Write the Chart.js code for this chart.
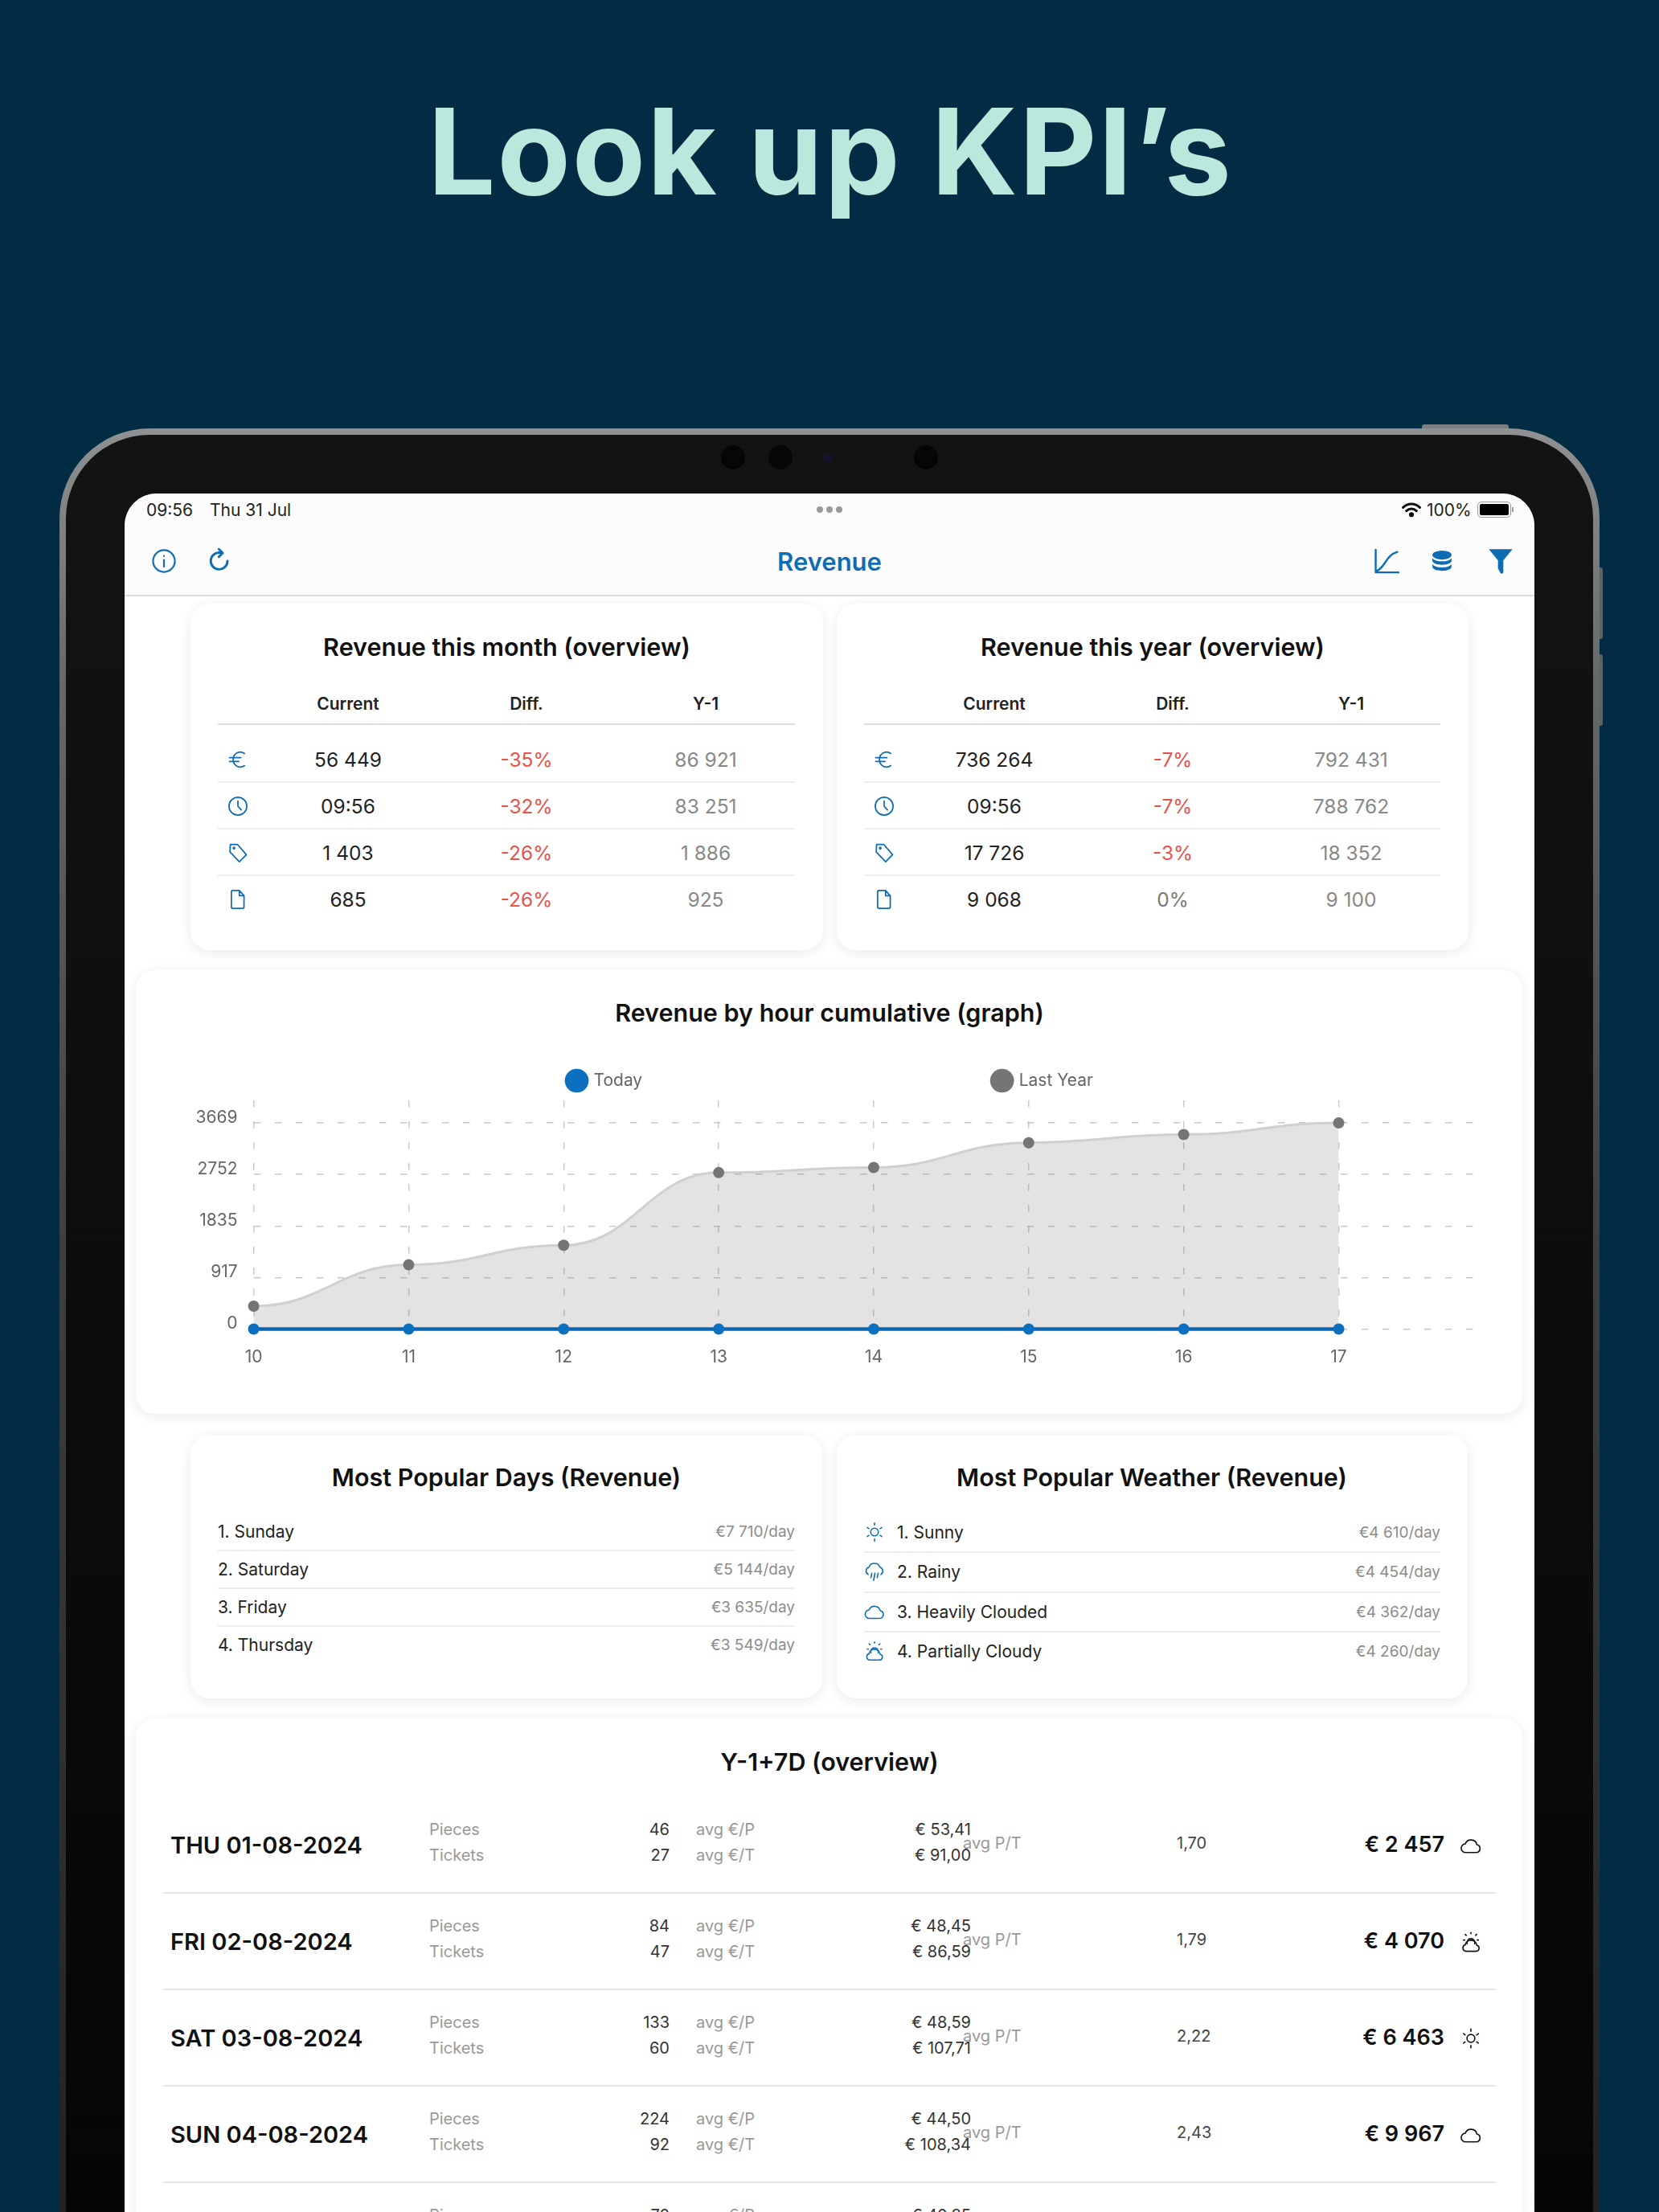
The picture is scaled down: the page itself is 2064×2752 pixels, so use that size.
<!DOCTYPE html>
<html>
<head>
<meta charset="utf-8">
<title>Look up KPI's</title>
<script src="https://cdn.jsdelivr.net/npm/chart.js"></script>
<style>
html, body { margin: 0; padding: 0; width: 2064px; height: 2752px; overflow: hidden; background: #012c43; font-family: Inter, "Noto Sans", sans-serif; }
.box { position: absolute; box-sizing: border-box; }
.txt { position: absolute; white-space: pre; line-height: 1; }
.card { position: absolute; box-sizing: border-box; background: #fff; border-radius: 24px; box-shadow: 0 3px 16px rgba(0,0,0,.09); }
.icon { position: absolute; transform: translate(-50%, -50%); fill: none; stroke-linecap: round; stroke-linejoin: round; }
#chart { position: absolute; left: 169px; top: 1310px; }
</style>
</head>
<body>
<canvas id="chart" width="1725" height="410" style="z-index:5"></canvas>
<script>
// chart data
var hours = [10, 11, 12, 13, 14, 15, 16, 17];
var todayValues = [0, 0, 0, 0, 0, 0, 0, 0];
var lastYearValues = [408, 1143, 1491, 2785, 2876, 3317, 3463, 3669];
var yTicks = [0, 917, 1835, 2752, 3669];
var seriesNames = ['Today', 'Last Year'];

// tables
var tableHead = ['Current', 'Diff.', 'Y-1'];
var rowIcons = ['euro', 'clock', 'tag', 'doc'];
var monthCurrent = ['56 449', '09:56', '1 403', '685'];
var monthDiff = ['-35%', '-32%', '-26%', '-26%'];
var monthPrev = ['86 921', '83 251', '1 886', '925'];
var yearCurrent = ['736 264', '09:56', '17 726', '9 068'];
var yearDiff = ['-7%', '-7%', '-3%', '0%'];
var yearPrev = ['792 431', '788 762', '18 352', '9 100'];

var dayNames = ['1. Sunday', '2. Saturday', '3. Friday', '4. Thursday'];
var dayRevenue = ['€7 710/day', '€5 144/day', '€3 635/day', '€3 549/day'];
var weatherNames = ['1. Sunny', '2. Rainy', '3. Heavily Clouded', '4. Partially Cloudy'];
var weatherRevenue = ['€4 610/day', '€4 454/day', '€4 362/day', '€4 260/day'];
var weatherIcons = ['sun', 'rain', 'cloud', 'partly'];

var weekDates = ['THU 01-08-2024', 'FRI 02-08-2024', 'SAT 03-08-2024', 'SUN 04-08-2024', ''];
var weekPieces = ['46', '84', '133', '224', '70'];
var weekTickets = ['27', '47', '60', '92', ''];
var weekAvgP = ['€ 53,41', '€ 48,45', '€ 48,59', '€ 44,50', '€ 40,85'];
var weekAvgT = ['€ 91,00', '€ 86,59', '€ 107,71', '€ 108,34', ''];
var weekPT = ['1,70', '1,79', '2,22', '2,43', ''];
var weekTotal = ['€ 2 457', '€ 4 070', '€ 6 463', '€ 9 967', ''];
var weekIcons = ['cloud', 'partly', 'sun', 'cloud'];

var BLUE = '#0e6cb5';
var ICONS = {
  euro: '<path d="M19 5.500A7.600 7.600 0 0 0 7 12a7.600 7.600 0 0 0 12 6.500M3 10h12M3 14h10"/>',
  clock: '<circle cx="12" cy="12" r="9.500"/><path d="M12 6.500V12l3.500 4"/>',
  tag: '<path d="M4 3h7.500L21 14l-7.500 7.500L3.500 11z"/><circle cx="7.800" cy="7" r=".8"/>',
  doc: '<path d="M6.500 2.500h7l5 5.500v12a1.500 1.500 0 0 1-1.500 1.500H6.500A1.500 1.500 0 0 1 5 20V4a1.500 1.500 0 0 1 1.500-1.500zM13.500 2.500V8h5"/>',
  sun: '<circle cx="12" cy="12" r="4.200"/><path d="M12 2v2.500M12 19.500V22M4 7l1.800 1.300M4 17l1.800-1.300M20 7l-1.800 1.300M20 17l-1.800-1.300"/>',
  rain: '<path d="M5 15.500a4.500 4.500 0 0 1 .8-8.200A6.500 6.500 0 0 1 18 7.300a4.500 4.500 0 0 1 1 8.200M9 14l-1 5M12.500 14l-1.500 8M16 14l-1 5"/>',
  cloud: '<path d="M6.500 19.500h11a4.200 4.200 0 0 0 .9-8.300A6.500 6.500 0 0 0 6 10.300a4.600 4.600 0 0 0 .5 9.200z"/>',
  partly: '<path d="M6.500 22h11a3.300 3.300 0 0 0 .7-6.500A6.200 6.200 0 0 0 6 15a3.600 3.600 0 0 0 .5 7z"/><path d="M8 14a4.200 4.200 0 1 1 8 0M12 2v1.300M6 4l1 1M18 4l-1 1M4 10h1.300M20 10h-1.300"/>',
  info: '<circle cx="12" cy="12" r="10.500"/><path d="M12 11v6.500M12 7v.2"/>',
  refresh: '<path d="M19.500 12A7.800 7.800 0 1 1 14 4.500"/><path d="M11.500 1L15 4.500l-3.500 3.500"/>',
  chart: '<path d="M2.500 2v20h20M3 21C11 18 11 7 21.500 4"/>'
};

function addBox(x, y, w, h, css) {
  var d = document.createElement('div');
  d.className = 'box';
  d.style.cssText = 'left:' + x + 'px;top:' + y + 'px;width:' + w + 'px;height:' + h + 'px;' + (css || '');
  document.body.appendChild(d);
  return d;
}
function addText(s, x, y, size, weight, color, align) {
  var d = document.createElement('div');
  d.className = 'txt';
  d.textContent = s;
  var tx = align === 'center' ? '-50%' : align === 'right' ? '-100%' : '0';
  d.style.cssText = 'left:' + x + 'px;top:' + y + 'px;font-size:' + size + 'px;font-weight:' + weight + ';color:' + color + ';transform:translate(' + tx + ',-50%);z-index:6';
  document.body.appendChild(d);
  return d;
}
function addSvg(markup, viewBox, x, y, w, h, css) {
  var ns = document.createElementNS('http://www.w3.org/2000/svg', 'svg');
  ns.setAttribute('viewBox', viewBox);
  ns.setAttribute('class', 'icon');
  ns.setAttribute('width', w);
  ns.setAttribute('height', h);
  ns.style.cssText = 'left:' + x + 'px;top:' + y + 'px;z-index:6;' + css;
  ns.innerHTML = markup;
  document.body.appendChild(ns);
}
function addIcon(name, x, y, size, color, sw) {
  addSvg(ICONS[name], '0 0 24 24', x, y, size, size, 'stroke:' + color + ';stroke-width:' + (sw || 1.6));
}
function addLine(x1, x2, y, color) {
  addBox(x1, y - 1, x2 - x1, 2, 'background:' + (color || '#ececec') + ';z-index:6');
}
function addCard(x1, y1, x2, y2) {
  var d = document.createElement('div');
  d.className = 'card';
  d.style.cssText = 'left:' + x1 + 'px;top:' + y1 + 'px;width:' + (x2 - x1) + 'px;height:' + (y2 - y1) + 'px;z-index:2';
  document.body.appendChild(d);
}

// page heading and device body
var heading = addText('Look up KPI’s', 1033, 188, 149, 700, '#b9e8dc', 'center');
heading.style.letterSpacing = '2px';

addBox(1769, 528, 108, 8, 'background:#7d8083;border-radius:3px 3px 0 0');
addBox(1986, 706, 8, 89, 'background:#5f6265;border-radius:0 3px 3px 0');
addBox(1986, 814, 8, 89, 'background:#5f6265;border-radius:0 3px 3px 0');
addBox(74, 533, 1916, 2500, 'border-radius:112px;background:linear-gradient(#8f9193 0,#68696b 300px,#3e3f40 1000px,#222 2200px)');
addBox(82, 541, 1900, 2490, 'border-radius:104px;background:linear-gradient(#131313 0,#0e0e0e 900px,#050505 2200px)');
[912, 971, 1152].forEach(function (cx) {
  addBox(cx - 15, 554, 30, 30, 'border-radius:50%;background:#060606');
});
addBox(1024, 564, 11, 11, 'border-radius:50%;background:#14142e');
addBox(1088, 566, 6, 6, 'border-radius:50%;background:#111');

// screen
addBox(155, 614, 1754, 2500, 'border-radius:40px;background:#fff;z-index:1');
addBox(155, 614, 1754, 127, 'border-radius:40px 40px 0 0;background:#fcfcfc;z-index:1');
addLine(155, 1909, 741, '#dcdcdc');

// status bar
addText('09:56', 182, 634, 21, 400, '#222');
addText('Thu 31 Jul', 261, 634, 21, 400, '#222');
[1020, 1032, 1044].forEach(function (cx) {
  addBox(cx - 4, 630, 8, 8, 'border-radius:50%;background:#9a9a9a;z-index:6');
});
addText('100%', 1775, 634, 21, 400, '#222');
addBox(1838, 624, 42, 20, 'border:1.500px solid #999;border-radius:5px;background:#000;background-clip:content-box;padding:2px;z-index:6');
addBox(1881, 631, 2, 6, 'background:#999;z-index:6');
addSvg('<path d="M2 6.500a14 14 0 0 1 20 0M6 10.500a8.500 8.500 0 0 1 12 0"/><circle cx="12" cy="15" r="1.500" fill="#111"/>',
  '0 0 24 18', 1756, 634, 25, 19, 'stroke:#111;stroke-width:3');

// nav bar
addText('Revenue', 1032, 698, 31, 600, BLUE, 'center');
addIcon('info', 204, 698, 31, BLUE, 1.7);
addIcon('refresh', 273, 698, 32, BLUE, 2.2);
addIcon('chart', 1725, 698, 34, BLUE, 1.7);
addSvg('<ellipse cx="12" cy="6" rx="9.500" ry="4.500"/><path d="M2.500 8.500c1 5 18 5 19 0V12c-1 5-18 5-19 0zM2.500 14.500c1 5 18 5 19 0V18c-1 5-18 5-19 0z"/>',
  '0 0 24 24', 1794, 698, 30, 30, 'fill:' + BLUE);
addSvg('<path d="M1 1h22l-8.500 10.500V22a1.500 1.500 0 0 1-3 .5L9.500 19V11.500z"/>',
  '0 0 24 24', 1867, 698, 32, 32, 'fill:' + BLUE);

// top two cards
function overviewCard(x1, x2, title, lineX1, lineX2, cols, cur, diff, prev) {
  addCard(x1, 751, x2, 1182);
  addText(title, (x1 + x2) / 2, 805, 30.5, 600, '#111', 'center');
  tableHead.forEach(function (h, i) {
    addText(h, cols[i + 1], 875, 21, 600, '#222', 'center');
  });
  addLine(lineX1, lineX2, 901, '#dedede');
  var rowY = [945, 1003, 1061, 1119];
  var sepY = [973, 1031, 1089];
  rowY.forEach(function (y, i) {
    addIcon(rowIcons[i], cols[0], y, 28, BLUE, 1.5);
    addText(cur[i], cols[1], y, 24.5, 400, '#222', 'center');
    addText(diff[i], cols[2], y, 24.5, 400, diff[i].charAt(0) === '-' ? '#e8524a' : '#777', 'center');
    addText(prev[i], cols[3], y, 24.5, 400, '#888', 'center');
  });
  sepY.forEach(function (y) { addLine(lineX1, lineX2, y); });
}
overviewCard(237, 1024, 'Revenue this month (overview)', 271, 989, [296, 433, 655, 878], monthCurrent, monthDiff, monthPrev);
overviewCard(1041, 1827, 'Revenue this year (overview)', 1075, 1792, [1100, 1237, 1459, 1681], yearCurrent, yearDiff, yearPrev);

// chart card
addCard(169, 1207, 1894, 1759);
addText('Revenue by hour cumulative (graph)', 1032, 1260, 30.5, 600, '#111', 'center');

// popular days and weather
addCard(237, 1785, 1023, 2113);
addText('Most Popular Days (Revenue)', 630, 1838, 30.5, 600, '#111', 'center');
[1905, 1952, 1999, 2046].forEach(function (y, i) {
  addText(dayNames[i], 271, y, 21, 400, '#222');
  addText(dayRevenue[i], 989, y, 19, 400, '#8c8c8c', 'right');
});
[1929, 1976, 2023].forEach(function (y) { addLine(271, 989, y); });

addCard(1041, 1785, 1826, 2113);
addText('Most Popular Weather (Revenue)', 1433, 1838, 30.5, 600, '#111', 'center');
[1906, 1955, 2005, 2054].forEach(function (y, i) {
  addIcon(weatherIcons[i], 1088, y, 27, BLUE, 1.4);
  addText(weatherNames[i], 1116, y, 21, 400, '#222');
  addText(weatherRevenue[i], 1792, y, 19, 400, '#8c8c8c', 'right');
});
[1931, 1981, 2030].forEach(function (y) { addLine(1075, 1792, y); });

// Y-1+7D list
addCard(169, 2138, 1894, 3000);
addText('Y-1+7D (overview)', 1032, 2192, 30.5, 600, '#111', 'center');
weekPieces.forEach(function (p, i) {
  var y = 2294 + i * 120;
  addText('Pieces', 534, y - 18.5, 20, 400, '#999');
  addText(p, 833, y - 18.5, 20, 400, '#333', 'right');
  addText('avg €/P', 866, y - 18.5, 20, 400, '#999');
  addText(weekAvgP[i], 1208, y - 18.5, 20, 400, '#333', 'right');
  if (i < 4) {
    addLine(203, 1861, y + 61, '#e4e4e4');
    addText(weekDates[i], 212, y + 0.5, 29, 600, '#111');
    addText('Tickets', 534, y + 14, 20, 400, '#999');
    addText(weekTickets[i], 833, y + 14, 20, 400, '#333', 'right');
    addText('avg €/T', 866, y + 14, 20, 400, '#999');
    addText(weekAvgT[i], 1208, y + 14, 20, 400, '#333', 'right');
    addText('avg P/T', 1198, y - 1, 20, 400, '#999');
    addText(weekPT[i], 1464, y - 1, 20, 400, '#444');
    addText(weekTotal[i], 1797, y, 27, 600, '#111', 'right');
    addIcon(weekIcons[i], 1830, y + 2, 28, '#111', 1.4);
  }
});

// keeps the two legend items far apart without the legend taking that room
var legendPadding = 437;
var plotRightPad = 53;
var spreadLegend = {
  id: 'spreadLegend',
  beforeUpdate: function (chart) {
    var lg = chart.legend;
    if (!lg || lg.spreadDone) return;
    lg.spreadDone = true;
    var fit = lg.fit, draw = lg.draw;
    lg.fit = function () { fit.call(this); this.height = 59; };
    lg.draw = function () {
      var t = this.top, r = this.right;
      this.top = 24 - legendPadding;
      this.right = r + plotRightPad + 4;
      draw.call(this);
      this.top = t;
      this.right = r;
    };
  }
};

// the reference curve arrives flat at every point, so level the bezier handles
var flatKnots = {
  id: 'flatKnots',
  afterDatasetsUpdate: function (chart) {
    var meta = chart.getDatasetMeta(1);
    var pts = meta.data;
    meta.dataset.updateControlPoints(chart.chartArea, 'x');
    pts.forEach(function (p, i) {
      var prev = pts[i - 1], next = pts[i + 1];
      if (prev) { p.cp1x = p.x - (p.x - prev.x) * 0.45; p.cp1y = p.y; }
      if (next) { p.cp2x = p.x + (next.x - p.x) * 0.45; p.cp2y = p.y; }
    });
  }
};

var legendColors = ['#0a70bf', '#757575'];
var gridDash = [8.5, 17.5];

new Chart(document.getElementById('chart').getContext('2d'), {
  type: 'line',
  data: {
    datasets: [{
      label: seriesNames[0],
      data: hours.map(function (h, i) { return { x: h, y: todayValues[i] }; }),
      borderColor: '#0a66b2',
      backgroundColor: '#0a70bf',
      borderWidth: 4.5,
      pointRadius: 7,
      pointBackgroundColor: '#0a70bf',
      pointBorderWidth: 0,
      clip: false
    }, {
      label: seriesNames[1],
      data: hours.map(function (h, i) { return { x: h, y: lastYearValues[i] }; }),
      borderColor: '#d0d0d0',
      backgroundColor: 'rgba(115,115,115,0.2)',
      borderWidth: 3,
      fill: 'origin',
      cubicInterpolationMode: 'monotone',
      pointRadius: 7,
      pointBackgroundColor: '#757575',
      pointBorderWidth: 0,
      clip: false
    }]
  },
  options: {
    responsive: false,
    animation: false,
    layout: { autoPadding: false, padding: { right: plotRightPad } },
    plugins: {
      tooltip: { enabled: false },
      legend: {
        position: 'top',
        labels: {
          color: '#666',
          font: { family: 'Inter', size: 21 },
          usePointStyle: true,
          padding: legendPadding,
          generateLabels: function (chart) {
            return chart.data.datasets.map(function (d, i) {
              return { text: d.label, datasetIndex: i, fillStyle: legendColors[i], strokeStyle: legendColors[i], lineWidth: 0, pointStyle: 'circle', fontColor: '#666' };
            });
          }
        }
      }
    },
    scales: {
      x: {
        type: 'linear',
        min: 10,
        max: 17.91,
        afterBuildTicks: function (scale) {
          scale.ticks = hours.map(function (h) { return { value: h }; });
        },
        afterFit: function (scale) { scale.height = 66.5; },
        border: { display: false, dash: gridDash },
        grid: { color: '#c9c9c9', lineWidth: 1.5, drawTicks: false },
        ticks: { color: '#666', font: { family: 'Inter', size: 21 }, padding: 23, maxRotation: 0, callback: function (v) { return String(v); } }
      },
      y: {
        min: 0,
        max: 4071,
        afterBuildTicks: function (scale) {
          scale.ticks = yTicks.map(function (v) { return { value: v }; });
        },
        afterFit: function (scale) { scale.width = 146.6; },
        border: { display: false, dash: gridDash },
        grid: { color: '#c9c9c9', lineWidth: 1.5, drawTicks: false },
        // empty second line lifts each label above its grid line
        ticks: { color: '#666', font: { family: 'Inter', size: 21, lineHeight: '13px' }, padding: 20, callback: function (v) { return [String(v), '']; } }
      }
    }
  },
  plugins: [spreadLegend, flatKnots]
});
</script>
</body>
</html>
